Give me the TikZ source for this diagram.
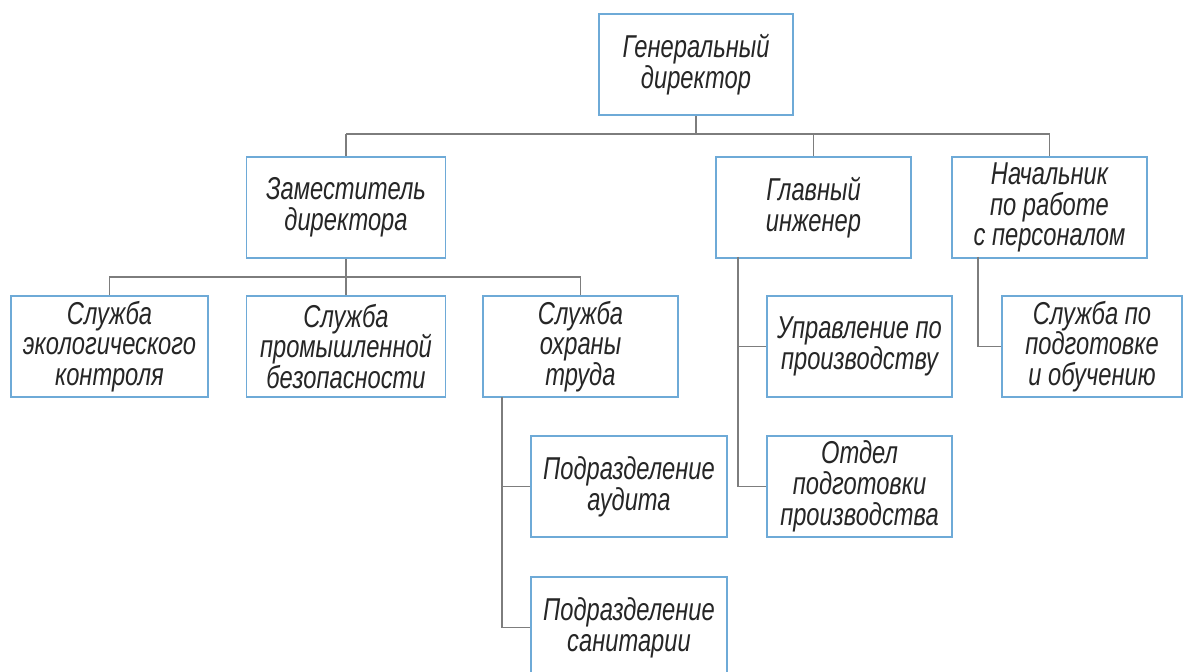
\documentclass[tikz,border=0pt]{standalone}
\usepackage{fontspec}
\setmainfont{Liberation Sans}[FakeStretch=0.75]
\begin{document}
\begin{tikzpicture}[x=0.02cm,y=-0.02cm,
  box/.style={draw=boxblue, line width=0.9pt, fill=white, align=center, inner sep=0pt,
    minimum height=2.02cm, font=\fontsize{18}{17.5}\selectfont\itshape, text=black!85},
  conn/.style={draw=linegray, line width=0.6pt}]
\definecolor{boxblue}{RGB}{110,170,215}
\definecolor{linegray}{RGB}{125,125,125}
\useasboundingbox (0,0) rectangle (1184,672);
\clip (0,0) rectangle (1184,672);
\fill[white] (0,0) rectangle (1184,672);
% nodes
\node[box, minimum width=3.88cm] (gd) at (696,64.5) {Генеральный\\директор};
\node[box, minimum width=3.98cm] (zam) at (346,207.5) {Заместитель\\директора};
\node[box, minimum width=3.90cm] (gi) at (813.5,207.5) {Главный\\инженер};
\node[box, minimum width=3.90cm] (nach) at (1049.5,207.5) {Начальник\\по работе\\с персоналом};
\node[box, minimum width=3.94cm] (s1) at (109.5,346.5) {Служба\\экологического\\контроля};
\node[box, minimum width=3.98cm] (s2) at (346,346.5) {Служба\\промышленной\\безопасности};
\node[box, minimum width=3.90cm] (s3) at (580.5,346.5) {Служба\\охраны\\труда};
\node[box, minimum width=3.92cm] (pa) at (629,486.5) {Подразделение\\аудита};
\node[box, minimum width=3.92cm] (ps) at (629,627.5) {Подразделение\\санитарии};
\node[box, minimum width=3.70cm] (up) at (859.5,346.5) {Управление по\\производству};
\node[box, minimum width=3.70cm] (ot) at (859.5,486.5) {Отдел\\подготовки\\производства};
\node[box, minimum width=3.60cm] (sp) at (1092,346.5) {Служба по\\подготовке\\и обучению};
% coordinates
\coordinate (busL) at (346,134);
\coordinate (bus2) at (346,277);
\coordinate (t3) at (502,397);
\coordinate (t4) at (738,257);
\coordinate (t5) at (978,257);
% connectors
\draw[conn] (gd.south) -- (gd.south |- busL);
\draw[conn] (busL) -- (nach.north |- busL);
\draw[conn] (busL) -- (zam.north);
\draw[conn] (gi.north |- busL) -- (gi.north);
\draw[conn] (nach.north |- busL) -- (nach.north);
\draw[conn] (zam.south) -- (s2.north);
\draw[conn] (s1.north) -- (s1.north |- bus2) -- (s3.north |- bus2) -- (s3.north);
\draw[conn] (t3) |- (ps.west);
\draw[conn] (t3 |- pa.west) -- (pa.west);
\draw[conn] (t4) |- (ot.west);
\draw[conn] (t4 |- up.west) -- (up.west);
\draw[conn] (t5) |- (sp.west);
\end{tikzpicture}
\end{document}
